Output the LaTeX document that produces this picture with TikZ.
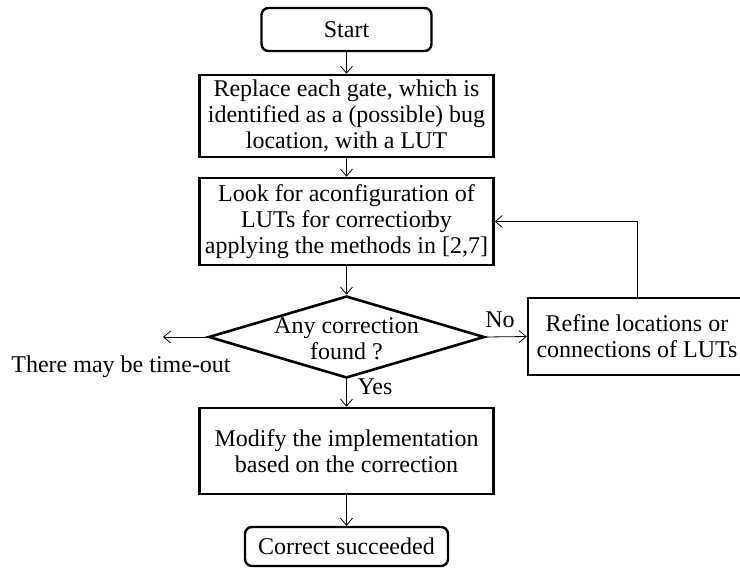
\documentclass[tikz,border=0pt]{standalone}
\usepackage{fontspec}
\setmainfont{Liberation Serif}
\usetikzlibrary{shapes.geometric,arrows.meta}
\begin{document}
\begin{tikzpicture}[x=1pt,y=-1pt,
  every node/.style={font=\fontsize{24}{26}\selectfont},
  procbox/.style={draw, line width=2.6pt, minimum width=294pt, inner sep=0pt, align=center},
  termbox/.style={draw, line width=2.4pt, rounded corners=7pt, inner sep=0pt, align=center},
  conn/.style={line width=0.8pt, -{Straight Barb[length=7pt,width=12pt]}}]
\useasboundingbox (0,0) rectangle (740,568);
\node[termbox, minimum width=170pt, minimum height=43pt] (start) at (346.5,29.5) {Start};
\node[procbox, minimum height=82pt] (replace) at (346.5,116) {Replace each gate, which is\\identified as a (possible) bug\\location, with a LUT};
\node[procbox, minimum height=87pt] (look) at (346.5,221.5) {Look for aconfiguration of\\LUTs for correction\kern-5pt by\\applying the methods in [2,7]};
\node[diamond, draw, line width=2.6pt, minimum width=276pt, minimum height=82pt, inner sep=0pt] (dec) at (346.5,337) {};
\node[align=center] (dectext) at (346.5,339) {Any correction\\found ?};
\node[procbox, minimum width=218pt, minimum height=77pt] (refine) at (637,336.5) {Refine locations or\\connections of LUTs};
\node[procbox, minimum height=86pt] (modify) at (346.5,451) {Modify the implementation\\based on the correction};
\node[termbox, minimum width=203pt, minimum height=39pt] (done) at (346.5,546.5) {Correct succeeded};
\node (timeout) at (121,367) {There may be time-out};
\coordinate (leftend) at (163,337);
\node[anchor=base] (nolab) at (500,327) {No};
\node[anchor=base] (yeslab) at (375,394) {Yes};
\draw[conn] (start) -- (replace);
\draw[conn] (replace) -- (look);
\draw[conn] (look) -- (dec);
\draw[conn] (dec) -- (modify);
\draw[conn] (modify) -- (done);
\draw[conn] (dec.east) -- (refine.west);
\draw[conn] (dec.west) -- (leftend);
\draw[conn] (refine.north) |- (look.east);
\end{tikzpicture}
\end{document}
